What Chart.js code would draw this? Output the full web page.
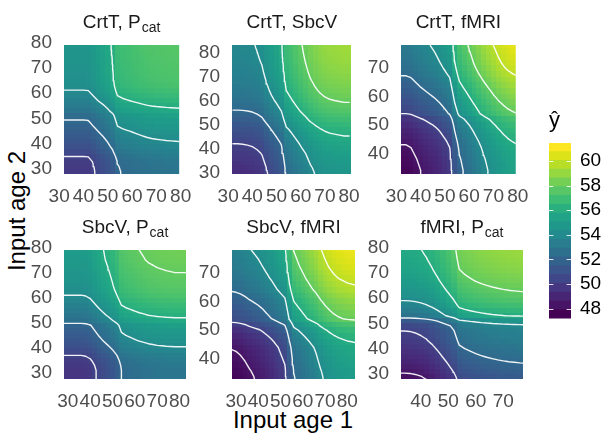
<!DOCTYPE html>
<html>
<head>
<meta charset="utf-8">
<script src="https://cdn.jsdelivr.net/npm/chart.js@4.4.0/dist/chart.umd.min.js"></script>
<style>
  body { margin: 0; background: #fff; width: 615px; height: 440px; position: relative; overflow: hidden;
         font-family: "Liberation Sans", Arial, sans-serif; }
  .box { position: absolute; }
  .axt { position: absolute; font-size: 24px; line-height: 1; color: #000; white-space: nowrap; }
</style>
</head>
<body>
<div class="axt" style="left:293px; top:408px; transform:translateX(-50%);">Input age 1</div>
<div class="axt" style="left:17px; top:211px; transform:translate(-50%,-50%) rotate(-90deg);">Input age 2</div>
<script>
// ages on the grid (years)
const crtAges  = [32,34,36,38,40,42,44,46,48,50,52,54,56,58,60,62,64,66,68,70,72,74,76,78,80];
const pcatAges = [27,29,31,33,35,37,39,41,43,45,47,49,51,53,55,57,59,61,63,65,67,69,71,73,75,77,79];
const sbcAges  = [28,30,32,34,36,38,40,42,44,46,48,50,52,54,56,58,60,62,64,66,68,70,72,74,76,78,80,82,84];
const fmriAges = [32,34,36,38,40,42,44,46,48,50,52,54,56,58,60,62,64,66,68,70,72,74,76,78];

// predicted y-hat = panel base + contribution of age 1 + contribution of age 2
const p1Base = 49.6;
const p1CrtT = [0,0,0,0,0,0.02,0.3,0.6,0.85,1.15,1.55,2.3,2.45,2.55,2.64,2.73,2.82,2.9,2.96,3.0,3.03,3.06,3.08,3.1,3.12];
const p1Pcat = [0,0,0.05,0.15,0.4,0.75,1.05,1.3,1.55,1.8,2.1,2.35,2.6,3.1,3.45,3.8,4.1,4.38,4.58,4.68,4.75,4.8,4.84,4.88,4.91,4.94,4.97];

const p2Base = 49.0;
const p2CrtT = [0,0,0.02,0.06,0.12,0.25,0.45,0.9,1.3,1.65,2.05,3.1,3.4,3.75,4.1,4.4,4.75,5.0,5.2,5.35,5.45,5.5,5.55,5.6,5.6];
const p2Sbcv = [0,0.05,0.15,0.3,0.45,0.6,0.8,1.0,1.25,1.5,1.75,2.05,2.4,2.7,3.0,3.25,3.5,3.7,3.88,4.03,4.17,4.3,4.42,4.52,4.61,4.68,4.74,4.79,4.83];

const p3Base = 47.4;
const p3CrtT = [0,0,0.1,0.35,0.6,0.8,1.0,1.2,1.45,1.75,2.1,3.4,4.3,4.7,5.1,5.5,5.9,6.3,6.65,7.0,7.3,7.55,7.75,7.9,8.0];
const p3Fmri = [0,0,0.1,0.2,0.35,0.5,0.7,0.95,1.2,1.5,1.9,2.6,2.9,3.2,3.5,3.8,4.1,4.4,4.7,4.95,5.15,5.3,5.45,5.6];

const p4Base = 49.4;
const p4Sbcv = [0,0,0,0,0,0.05,0.2,0.5,0.8,1.05,1.3,1.6,2.0,2.6,2.75,2.85,2.95,3.05,3.12,3.2,3.25,3.3,3.33,3.36,3.38,3.4,3.4,3.4,3.4];
const p4Pcat = [0,0,0,0.1,0.3,0.6,0.95,1.3,1.6,1.85,2.1,2.35,3.0,3.4,3.7,4.0,4.3,4.6,4.8,4.95,5.05,5.15,5.25,5.35,5.45,5.5,5.55];

const p5Base = 47.3;
const p5Sbcv = [0,0.05,0.15,0.3,0.5,0.65,0.8,1.0,1.25,1.5,1.8,2.1,2.4,3.6,4.6,4.9,5.2,5.5,5.8,6.1,6.5,6.8,7.05,7.25,7.4,7.5,7.6,7.65,7.7];
const p5Fmri = [0,0.05,0.15,0.3,0.45,0.6,0.75,1.05,1.4,1.8,2.4,3.2,3.5,3.8,4.1,4.45,4.8,5.05,5.3,5.5,5.7,5.85,6.0,6.15];

const p6Base = 47.6;
const p6Fmri = [0,0,0.02,0.08,0.18,0.32,0.55,0.85,1.2,1.55,1.95,2.6,2.77,2.9,3.02,3.12,3.2,3.27,3.33,3.38,3.42,3.45,3.48,3.5];
const p6Pcat = [0,0.2,0.5,0.75,1.0,1.25,1.5,1.75,2.0,2.2,2.4,2.7,3.6,5.0,5.5,6.0,6.4,6.7,6.97,7.2,7.42,7.6,7.77,7.9,8.02,8.12,8.2];

const ticksFull = [30,40,50,60,70,80];
const ticksMid = [40,50,60,70];
const contourLevels = [48,50,52,54,56,58,60];
const fillLimits = [47.19, 61.46];
const barTicks = [48,50,52,54,56,58,60];

const fam = '"Liberation Sans", Arial, sans-serif';
const AXW = 50, AXH = 40, TOPPAD = 35, RPAD = 16;

const viridisStops = ['#440154','#471365','#482475','#463480','#414487','#3b528b','#355f8d','#2f6c8e','#2a788e','#25848e',
  '#21918c','#1e9c89','#22a884','#2fb47c','#44bf70','#5ec962','#7ad151','#9bd93c','#bddf26','#dfe318','#fde725'];
function hexRgb(h) { return [parseInt(h.substr(1,2),16), parseInt(h.substr(3,2),16), parseInt(h.substr(5,2),16)]; }
const viridisRgb = viridisStops.map(hexRgb);
function viridis(v) {
  let t = (v - fillLimits[0]) / (fillLimits[1] - fillLimits[0]);
  t = Math.max(0, Math.min(1, t));
  const pos = t * (viridisRgb.length - 1);
  const i = Math.min(Math.floor(pos), viridisRgb.length - 2);
  const f = pos - i;
  const a = viridisRgb[i], b = viridisRgb[i + 1];
  return 'rgb(' + [0,1,2].map(k => Math.round(a[k] + f * (b[k] - a[k]))).join(',') + ')';
}

const panels = [
  { title: 'CrtT, P', sub: 'cat', box: [64,45,186,174], xr: [32.0,79.4], yr: [28.1,79.0],
    xAges: crtAges, yAges: pcatAges, base: p1Base, xEff: p1CrtT, yEff: p1Pcat, xTicks: ticksFull, yTicks: ticksFull },
  { title: 'CrtT, SbcV', sub: '', box: [232,45,355,174], xr: [31.6,81.1], yr: [29.4,83.1],
    xAges: crtAges, yAges: sbcAges, base: p2Base, xEff: p2CrtT, yEff: p2Sbcv, xTicks: ticksFull, yTicks: ticksFull },
  { title: 'CrtT, fMRI', sub: '', box: [401,45,523,174], xr: [31.9,79.2], yr: [32.7,78.2],
    xAges: crtAges, yAges: fmriAges, base: p3Base, xEff: p3CrtT, yEff: p3Fmri, xTicks: ticksFull, yTicks: ticksMid },
  { title: 'SbcV, P', sub: 'cat', box: [64,250,186,379], xr: [28.3,82.9], yr: [27.6,79.0],
    xAges: sbcAges, yAges: pcatAges, base: p4Base, xEff: p4Sbcv, yEff: p4Pcat, xTicks: ticksFull, yTicks: ticksFull },
  { title: 'SbcV, fMRI', sub: '', box: [232,250,355,379], xr: [28.2,83.5], yr: [33.1,77.8],
    xAges: sbcAges, yAges: fmriAges, base: p5Base, xEff: p5Sbcv, yEff: p5Fmri, xTicks: ticksFull, yTicks: ticksMid },
  { title: 'fMRI, P', sub: 'cat', box: [401,250,523,379], xr: [32.8,77.2], yr: [28.0,79.0],
    xAges: fmriAges, yAges: pcatAges, base: p6Base, xEff: p6Fmri, yEff: p6Pcat, xTicks: ticksMid, yTicks: ticksFull }
];

function gridValues(p) {
  return p.yAges.map((ya, j) => p.xAges.map((xa, i) => p.base + p.xEff[i] + p.yEff[j]));
}

// marching squares, segments separated by gaps
function contourPoints(xs, ys, z, level) {
  const pts = [];
  const gap = { x: NaN, y: NaN };
  for (let j = 0; j < ys.length - 1; j++) {
    for (let i = 0; i < xs.length - 1; i++) {
      const c = [
        [xs[i], ys[j], z[j][i]],
        [xs[i + 1], ys[j], z[j][i + 1]],
        [xs[i + 1], ys[j + 1], z[j + 1][i + 1]],
        [xs[i], ys[j + 1], z[j + 1][i]]
      ];
      const cross = [];
      for (let e = 0; e < 4; e++) {
        const a = c[e], b = c[(e + 1) % 4];
        if ((a[2] < level) !== (b[2] < level)) {
          const t = (level - a[2]) / (b[2] - a[2]);
          cross.push({ x: a[0] + t * (b[0] - a[0]), y: a[1] + t * (b[1] - a[1]) });
        }
      }
      if (cross.length === 2) {
        pts.push(cross[0], cross[1], gap);
      } else if (cross.length === 4) {
        pts.push(cross[0], cross[1], gap, cross[2], cross[3], gap);
      }
    }
  }
  return pts;
}

function makePanel(p) {
  const z = gridValues(p);
  const w = AXW + (p.box[2] - p.box[0]) + RPAD;
  const h = TOPPAD + (p.box[3] - p.box[1]) + AXH;
  const wrap = document.createElement('div');
  wrap.className = 'box';
  wrap.style.left = (p.box[0] - AXW) + 'px';
  wrap.style.top = (p.box[1] - TOPPAD) + 'px';
  const cv = document.createElement('canvas');
  cv.width = w; cv.height = h;
  cv.style.width = w + 'px'; cv.style.height = h + 'px';
  wrap.appendChild(cv);
  document.body.appendChild(wrap);

  const heat = {
    id: 'heat',
    beforeDatasetsDraw(chart) {
      const ctx = chart.ctx, area = chart.chartArea;
      const xs = chart.scales.x, ys = chart.scales.y;
      const edges = arr => arr.map((a, k) => [
        k === 0 ? a - (arr[1] - arr[0]) / 2 : (arr[k - 1] + a) / 2,
        k === arr.length - 1 ? a + (a - arr[k - 1]) / 2 : (a + arr[k + 1]) / 2
      ]);
      const xe = edges(p.xAges), ye = edges(p.yAges);
      ctx.save();
      ctx.beginPath();
      ctx.rect(area.left, area.top, area.right - area.left, area.bottom - area.top);
      ctx.clip();
      for (let j = 0; j < p.yAges.length; j++) {
        const py0 = Math.round(ys.getPixelForValue(ye[j][1]));
        const py1 = Math.round(ys.getPixelForValue(ye[j][0]));
        for (let i = 0; i < p.xAges.length; i++) {
          const px0 = Math.round(xs.getPixelForValue(xe[i][0]));
          const px1 = Math.round(xs.getPixelForValue(xe[i][1]));
          ctx.fillStyle = viridis(z[j][i]);
          ctx.fillRect(px0, py0, px1 - px0, py1 - py0);
        }
      }
      ctx.restore();
    },
    afterDraw(chart) {
      const ctx = chart.ctx, area = chart.chartArea;
      ctx.save();
      ctx.fillStyle = '#1a1a1a';
      ctx.textBaseline = 'alphabetic';
      ctx.textAlign = 'left';
      ctx.font = '19px ' + fam;
      const wMain = ctx.measureText(p.title).width;
      ctx.font = '14px ' + fam;
      const wSub = p.sub ? ctx.measureText(p.sub).width + 1 : 0;
      const x0 = (area.left + area.right) / 2 - (wMain + wSub) / 2;
      const yb = area.top - 17;
      ctx.font = '19px ' + fam;
      ctx.fillText(p.title, x0, yb);
      if (p.sub) {
        ctx.font = '14px ' + fam;
        ctx.fillText(p.sub, x0 + wMain + 1, yb + 4);
      }
      ctx.restore();
    }
  };

  const tickFont = { size: 19, family: fam };
  new Chart(cv, {
    type: 'scatter',
    data: {
      datasets: contourLevels.map(lv => ({
        data: contourPoints(p.xAges, p.yAges, z, lv),
        showLine: true,
        spanGaps: false,
        borderColor: 'rgba(255,255,255,0.92)',
        borderWidth: 1.4,
        borderCapStyle: 'round',
        pointRadius: 0,
        pointHoverRadius: 0
      }))
    },
    options: {
      responsive: false,
      animation: false,
      events: [],
      layout: { padding: { top: TOPPAD, right: RPAD, left: 0, bottom: 0 } },
      plugins: { legend: { display: false }, tooltip: { enabled: false } },
      scales: {
        x: {
          type: 'linear', min: p.xr[0], max: p.xr[1], bounds: 'data',
          afterFit: s => { s.height = AXH; },
          afterBuildTicks: s => { s.ticks = p.xTicks.map(v => ({ value: v })); },
          grid: { display: false, drawTicks: false },
          border: { display: false },
          ticks: { color: '#4d4d4d', font: tickFont, padding: 11, maxRotation: 0, minRotation: 0, autoSkip: false }
        },
        y: {
          type: 'linear', min: p.yr[0], max: p.yr[1], bounds: 'data',
          afterFit: s => { s.width = AXW; },
          afterBuildTicks: s => { s.ticks = p.yTicks.map(v => ({ value: v })); },
          grid: { display: false, drawTicks: false },
          border: { display: false },
          ticks: { color: '#4d4d4d', font: tickFont, padding: 12, autoSkip: false }
        }
      }
    },
    plugins: [heat]
  });
}

panels.forEach(makePanel);

// colour bar (20 bins, like the legend of the original)
function makeColorbar() {
  const nbin = 20;
  const lo = fillLimits[0], hi = fillLimits[1];
  const step = (hi - lo) / nbin;
  const bins = [];
  for (let k = 0; k < nbin; k++) {
    bins.push({ from: lo + k * step, to: lo + (k + 1) * step + 0.02, col: viridis(lo + k * (hi - lo) / (nbin - 1)) });
  }
  const left = 549, top = 143, bw = 22, bh = 176;
  const padTop = 40, padBottom = 20, axw = 50;
  const wrap = document.createElement('div');
  wrap.className = 'box';
  wrap.style.left = left + 'px';
  wrap.style.top = (top - padTop) + 'px';
  const cv = document.createElement('canvas');
  const w = bw + axw, h = padTop + bh + padBottom;
  cv.width = w; cv.height = h;
  cv.style.width = w + 'px'; cv.style.height = h + 'px';
  wrap.appendChild(cv);
  document.body.appendChild(wrap);

  const cbMarks = {
    id: 'cbMarks',
    afterDatasetsDraw(chart) {
      const ctx = chart.ctx, area = chart.chartArea, ys = chart.scales.y;
      ctx.save();
      ctx.strokeStyle = 'rgba(255,255,255,0.85)';
      ctx.lineWidth = 1;
      barTicks.forEach(v => {
        const y = Math.round(ys.getPixelForValue(v)) + 0.5;
        ctx.beginPath();
        ctx.moveTo(area.left, y); ctx.lineTo(area.left + 4.4, y);
        ctx.moveTo(area.right - 4.4, y); ctx.lineTo(area.right, y);
        ctx.stroke();
      });
      ctx.fillStyle = '#000';
      ctx.font = '22px ' + fam;
      ctx.textAlign = 'left';
      ctx.textBaseline = 'alphabetic';
      ctx.fillText('\u0177', area.left, area.top - 16);
      ctx.restore();
    }
  };

  new Chart(cv, {
    type: 'bar',
    data: {
      labels: ['yhat'],
      datasets: bins.map(b => ({
        data: [[b.from, b.to]],
        backgroundColor: b.col,
        borderWidth: 0,
        barPercentage: 1,
        categoryPercentage: 1,
        grouped: false
      }))
    },
    options: {
      responsive: false,
      animation: false,
      events: [],
      layout: { padding: { top: padTop, bottom: padBottom, left: 0, right: 0 } },
      plugins: { legend: { display: false }, tooltip: { enabled: false } },
      scales: {
        x: { display: false },
        y: {
          position: 'right', min: lo, max: hi, bounds: 'data',
          afterFit: s => { s.width = axw; },
          afterBuildTicks: s => { s.ticks = barTicks.map(v => ({ value: v })); },
          grid: { display: false, drawTicks: false },
          border: { display: false },
          ticks: { color: '#000', font: { size: 19, family: fam }, padding: 9 }
        }
      }
    },
    plugins: [cbMarks]
  });
}
makeColorbar();
</script>
</body>
</html>
